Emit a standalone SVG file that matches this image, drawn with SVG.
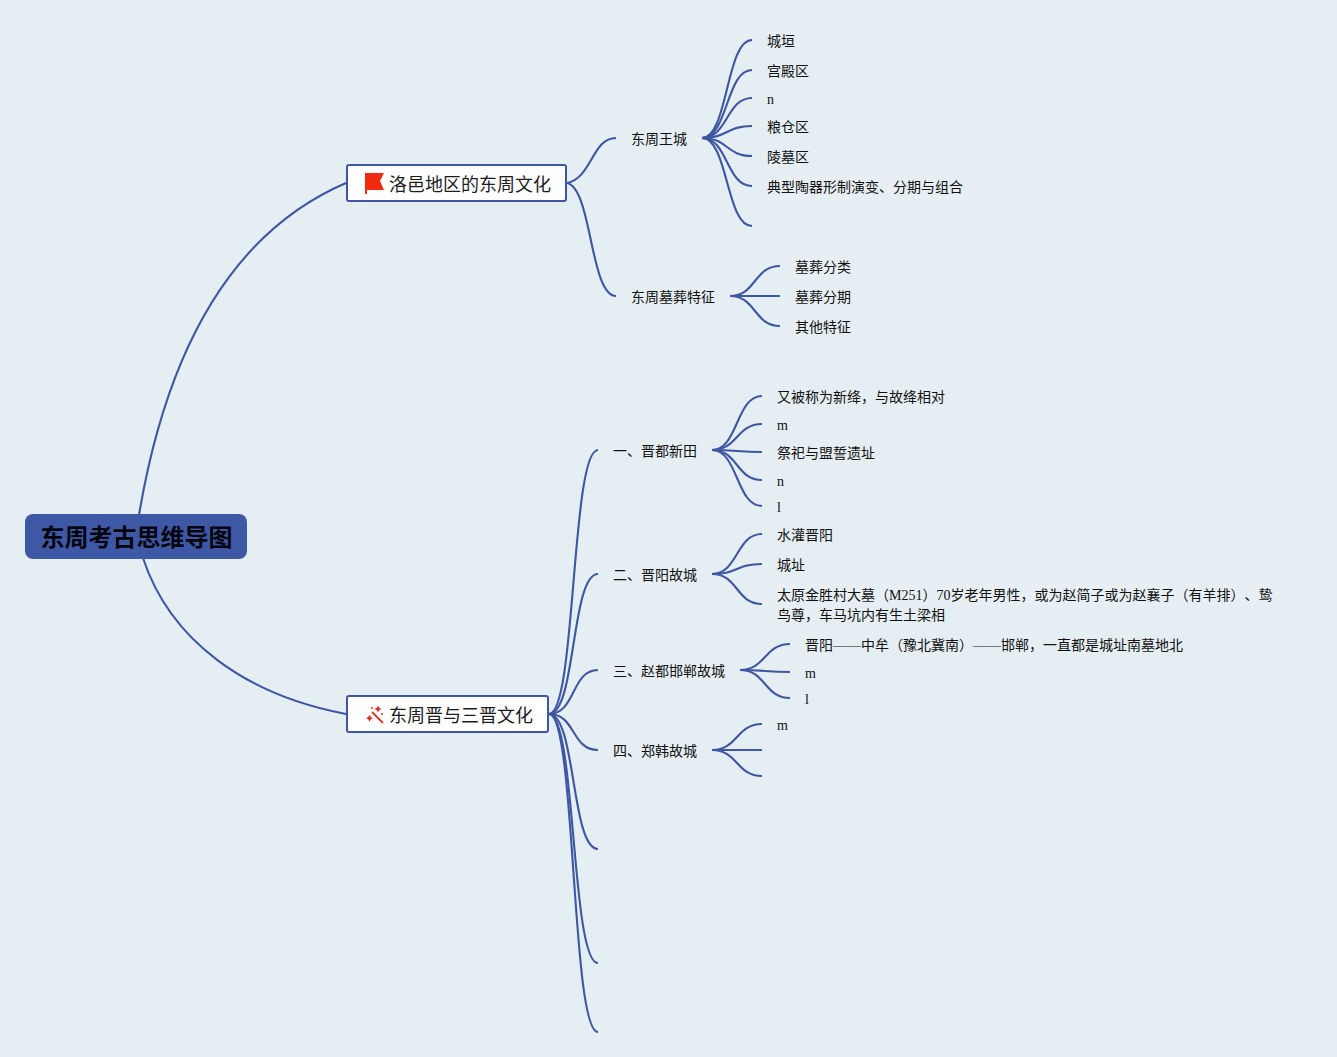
<svg xmlns="http://www.w3.org/2000/svg" width="1337" height="1057" viewBox="0 0 1337 1057">
<style>
text{font-family:"Liberation Serif","Noto Sans CJK SC",serif;font-size:14px;fill:#111}
.t{font-family:"Noto Sans CJK SC","Liberation Sans",sans-serif;font-size:18px;fill:#1c1c1c}
.r{font-family:"Noto Sans CJK SC","Liberation Sans",sans-serif;font-size:24px;font-weight:700;fill:#05050f}
.c path{fill:none;stroke:#3f56a2;stroke-width:2.100}
.b{fill:#fff;stroke:#3f56a2;stroke-width:2}
.l{fill:#e7eff4}
</style>
<rect width="1337" height="1057" fill="#e5eef3"/>
<g id="connectors" class="c">
<path d="M139 515C165 360 225 235 346 183"/>
<path d="M143 558C170 640 245 695 346 714"/>
<path d="M567 183C592 178 592 138 616 138"/>
<path d="M567 183C592 188 590 296 616 296"/>
<path d="M702 138C728 138 726 40 752 40"/>
<path d="M702 138C728 138 726 70 752 70"/>
<path d="M702 138C728 138 726 98 752 98"/>
<path d="M702 138C728 138 726 126 752 126"/>
<path d="M702 138C728 138 726 156 752 156"/>
<path d="M702 138C728 138 726 186 752 186"/>
<path d="M702 138C728 138 726 226 752 226"/>
<path d="M730 296C756 296 754 266 780 266"/>
<path d="M730 296H780"/>
<path d="M730 296C756 296 754 326 780 326"/>
<path d="M549 714C576 714 571 450 598 450"/>
<path d="M549 714C576 714 571 574 598 574"/>
<path d="M549 714C576 714 571 670 598 670"/>
<path d="M549 714C576 714 571 750 598 750"/>
<path d="M549 714C576 714 571 849 598 849"/>
<path d="M549 714C576 714 571 963 598 963"/>
<path d="M549 714C576 714 571 1032 598 1032"/>
<path d="M712 450C738 450 736 396 762 396"/>
<path d="M712 450C738 450 736 424 762 424"/>
<path d="M712 450C738 450 736 452 762 452"/>
<path d="M712 450C738 450 736 480 762 480"/>
<path d="M712 450C738 450 736 506 762 506"/>
<path d="M712 574C738 574 736 534 762 534"/>
<path d="M712 574C738 574 736 564 762 564"/>
<path d="M712 574C738 574 736 604 762 604"/>
<path d="M740 670C766 670 764 644 790 644"/>
<path d="M740 670C766 670 764 672 790 672"/>
<path d="M740 670C766 670 764 698 790 698"/>
<path d="M712 750C738 750 736 724 762 724"/>
<path d="M712 750H762"/>
<path d="M712 750C738 750 736 776 762 776"/>
</g>
<g id="root"><rect x="25" y="514" width="222" height="45" rx="8" fill="#3f58a5"/><text class="r" x="136.500" y="546" text-anchor="middle">东周考古思维导图</text></g>
<g id="topic1"><rect class="b" x="347" y="165" width="219" height="36" rx="2"/>
<path d="M365 173H384L380 181L384 190H367V194H365Z" fill="#f02b10"/>
<text class="t" x="389" y="190.500">洛邑地区的东周文化</text></g>
<g id="topic2"><rect class="b" x="347" y="696" width="201" height="36" rx="2"/>
<path d="M372 712L383 723" stroke="#e0302a" stroke-width="1.800" fill="none"/>
<path d="M378 705.500l1.200 2.300 2.300 1.200-2.300 1.200-1.200 2.300-1.200-2.300-2.300-1.200 2.300-1.200ZM369.500 715l1.300 2 2 1.300-2 1.300-1.300 2-1.300-2-2-1.300 2-1.300Z" fill="#e0302a"/><circle cx="382" cy="714" r="1" fill="#e0302a"/><circle cx="372" cy="708" r="1" fill="#e0302a"/>
<text class="t" x="389" y="721.500">东周晋与三晋文化</text></g>
<g id="n1"><text x="631" y="144">东周王城</text></g>
<g id="n2"><text x="631" y="302">东周墓葬特征</text></g>
<g id="n3"><text x="767" y="46">城垣</text></g>
<g id="n4"><text x="767" y="76">宫殿区</text></g>
<g id="n5"><text x="767" y="104">n</text></g>
<g id="n6"><text x="767" y="132">粮仓区</text></g>
<g id="n7"><text x="767" y="162">陵墓区</text></g>
<g id="n8"><rect class="l" x="762" y="176" width="212" height="30"/><text x="767" y="192">典型陶器形制演变、分期与组合</text></g>
<g id="n9"><rect class="l" x="790" y="256" width="66" height="22"/><text x="795" y="272">墓葬分类</text></g>
<g id="n10"><text x="795" y="302">墓葬分期</text></g>
<g id="n11"><text x="795" y="332">其他特征</text></g>
<g id="n12"><text x="613" y="456">一、晋都新田</text></g>
<g id="n13"><text x="613" y="580">二、晋阳故城</text></g>
<g id="n14"><text x="613" y="676">三、赵都邯郸故城</text></g>
<g id="n15"><text x="613" y="756">四、郑韩故城</text></g>
<g id="n16"><text x="777" y="402">又被称为新绛，与故绛相对</text></g>
<g id="n17"><text x="777" y="430">m</text></g>
<g id="n18"><text x="777" y="458">祭祀与盟誓遗址</text></g>
<g id="n19"><text x="777" y="486">n</text></g>
<g id="n20"><text x="777" y="512">l</text></g>
<g id="n21"><text x="777" y="540">水灌晋阳</text></g>
<g id="n22"><text x="777" y="570">城址</text></g>
<g id="n23"><rect class="l" x="772" y="584" width="508" height="22"/><text x="777" y="600">太原金胜村大墓（M251）70岁老年男性，或为赵简子或为赵襄子（有羊排）<tspan dx="7">、</tspan>鸷</text><text x="777" y="620">鸟尊，车马坑内有生土梁相</text></g>
<g id="n24"><text x="805" y="650">晋阳——中牟（豫北冀南）——邯郸，一直都是城址南墓地北</text></g>
<g id="n25"><text x="805" y="678">m</text></g>
<g id="n26"><text x="805" y="704">l</text></g>
<g id="n27"><text x="777" y="730">m</text></g>
</svg>
